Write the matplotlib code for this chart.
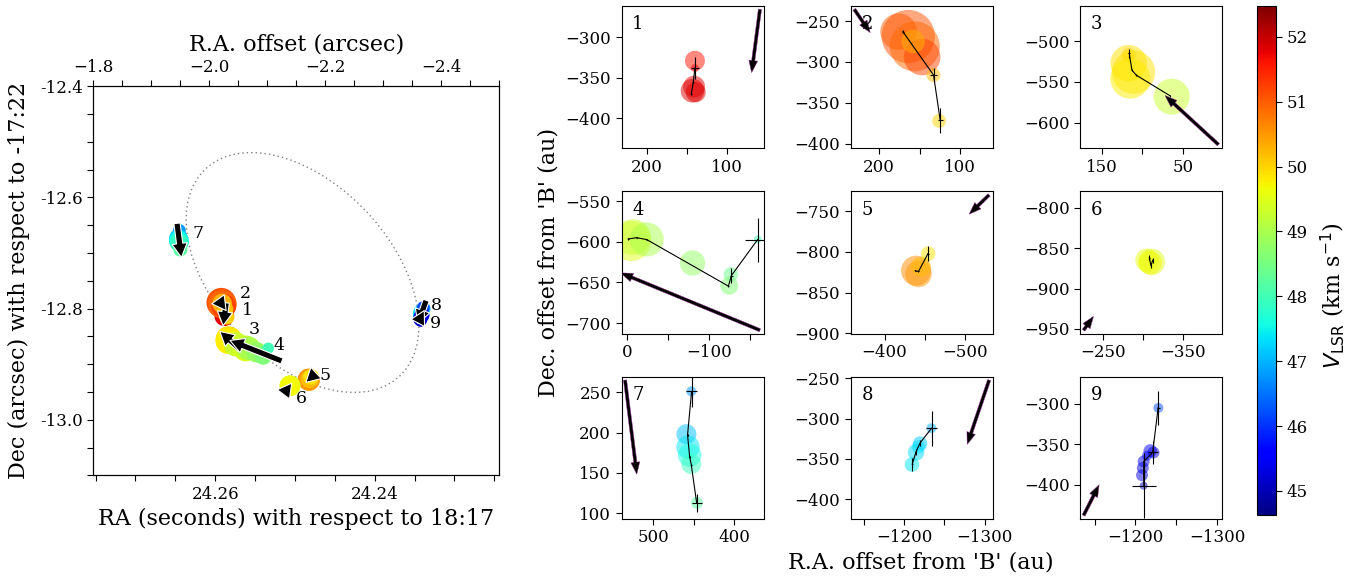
import numpy as np
import matplotlib
matplotlib.use("Agg")
import matplotlib.pyplot as plt
from matplotlib.ticker import MultipleLocator, FixedLocator
from matplotlib.patches import Ellipse
from matplotlib import colors, cm

plt.rcParams['font.family'] = ['DejaVu Serif']
plt.rcParams['mathtext.fontset'] = 'dejavusans'

# ---------------- data ----------------
# maser spots: feature id, offset from 'B' (au), V_LSR (km/s), relative flux
spot_feature = [1, 1, 1, 1, 1,
                2, 2, 2, 2, 2, 2, 2,
                3, 3, 3, 3, 3,
                4, 4, 4, 4, 4, 4, 4,
                5, 5, 5, 5,
                6, 6, 6,
                7, 7, 7, 7, 7, 7,
                8, 8, 8, 8, 8,
                9, 9, 9, 9, 9, 9, 9, 9]
spot_x = [140, 140, 141, 143, 139,
          176, 164, 156, 147, 158, 133, 126,
          117, 117, 111, 115, 64,
          -5, -7, -24, -80, -127, -125, -160,
          -439, -442, -445, -454,
          -305, -311, -309,
          453, 459, 457, 455, 453, 446,
          -1234, -1220, -1218, -1215, -1210,
          -1228, -1218, -1222, -1214, -1210, -1209, -1208, -1210]
spot_y = [-329, -338, -361, -366, -368,
          -263, -269, -281, -294, -275, -316, -372,
          -517, -527, -538, -546, -568,
          -599, -594, -597, -626, -640, -654, -597,
          -823, -827, -818, -802,
          -865, -867, -868,
          251, 198, 182, 172, 161, 113,
          -312, -331, -335, -342, -357,
          -305, -358, -360, -364, -371, -379, -388, -401]
spot_v = [51.6, 51.7, 51.8, 51.85, 51.8,
          51.0, 51.1, 50.9, 51.2, 50.3, 50.2, 50.0,
          50.2, 49.9, 49.9, 49.8, 49.3,
          49.5, 49.3, 49.0, 48.8, 48.4, 48.6, 48.0,
          50.6, 50.5, 50.2, 49.9,
          49.6, 49.5, 49.7,
          46.8, 47.1, 47.4, 47.6, 47.9, 48.2,
          47.0, 47.2, 47.3, 47.3, 47.4,
          46.2, 45.5, 45.3, 45.6, 45.4, 45.2, 45.3, 45.1]
spot_flux = [10, 1.6, 12, 14, 10,
             33.5, 71, 62.5, 33.5, 13.7, 4.9, 4.9,
             4.9, 33.5, 47, 40, 32.4,
             40, 32, 29, 16, 5.3, 8.1, 1.6,
             22.5, 17.7, 10, 5.3,
             13.7, 17.7, 13.7,
             2.5, 10, 13.7, 13.7, 10, 3.6,
             2.5, 5.3, 4.5, 6.9, 5.3,
             2.5, 4.5, 3.6, 2.5, 3.6, 3.6, 3.6, 1.6]

# position track of each feature with uncertainties (au)
track_feature = [1, 1, 1,
                 2, 2, 2,
                 3, 3, 3, 3,
                 4, 4, 4, 4, 4, 4,
                 5, 5, 5,
                 6, 6, 6,
                 7, 7, 7, 7, 7,
                 8, 8, 8, 8,
                 9, 9, 9, 9, 9]
track_x = [140, 142, 144.5,
           170.7, 132.9, 124.7,
           116.3, 113, 107.7, 66,
           -1.2, -11.6, -24, -124, -127.6, -159.8,
           -438, -442, -453.8,
           -308, -310, -312,
           452.6, 457.6, 455, 453, 446.4,
           -1210.3, -1214.8, -1219.8, -1234.2,
           -1210.2, -1210, -1210.2, -1221, -1227.8]
track_y = [-338, -355, -370,
           -263, -316, -371.3,
           -515.1, -535.6, -541.7, -567,
           -596.4, -594.8, -597.2, -654.5, -641.6, -597.2,
           -823, -824, -802,
           -862, -872, -865,
           250.9, 197, 170, 160, 113.1,
           -356.6, -341.7, -330.6, -312,
           -400.8, -385, -371, -360, -304.6]
track_xerr = [5, 0.5, 0.5,
              1, 4, 3,
              1, 0.5, 0.5, 0.5,
              0.5, 0.5, 0.5, 0.5, 2, 16,
              0.5, 0.5, 1,
              1, 0.5, 0.5,
              6.6, 0.5, 0.5, 0.5, 6,
              0.5, 0.5, 0.5, 6.6,
              15, 0.5, 0.5, 6, 2]
track_yerr = [14, 1.5, 1.5,
              2, 9, 15,
              6, 1, 1, 1,
              1, 1, 1, 1, 9, 27,
              1, 1, 9,
              3, 2, 3,
              19, 1, 1, 1, 11,
              8, 4, 4, 21.7,
              40, 6, 6, 14, 21]

# proper motion vectors per feature (au, as drawn in panels)
feature_ids = [1, 2, 3, 4, 5, 6, 7, 8, 9]
pm_dx = [10.3, -19.7, 65.9, 170.7, 24.8, -12.4, -14.5, 27.2, -19.1]
pm_dy = [-78.3, -28.6, 60.2, 70.7, -23.8, 17.3, -116.7, -79.7, 37.9]

# model orbit (dotted ellipse) in arcsec
orbit_center = (-2.161, -12.735)
orbit_width = 0.501
orbit_height = 0.310
orbit_angle = 49.7

# conversion of au offsets from 'B' into absolute offsets (arcsec)
AU_PER_ARCSEC = 4000.0
B_RA_OFF = -2.062
B_DEC = -12.722

vmin, vmax = 44.63, 52.48
cbar_ticks = [45, 46, 47, 48, 49, 50, 51, 52]

# subpanel axis limits and labelled x ticks
panel_xlim = [(231, 55), (235, 60), (177, 2), (7, -167), (-358, -534),
              (-222, -398), (539, 364), (-1134, -1310), (-1132, -1306)]
panel_ylim = [(-437, -261), (-405.4, -231.3), (-631.2, -456.6), (-713.2, -537.7),
              (-900.7, -725.3), (-956.2, -779.4), (92.9, 269.4), (-424.4, -248),
              (-442, -266.3)]
panel_xticks = [[200, 100], [200, 100], [150, 50], [0, -100], [-400, -500],
                [-250, -350], [500, 400], [-1200, -1300], [-1200, -1300]]
arrow_corner = ['tr', 'tl', 'br', 'br', 'tr', 'bl', 'tl', 'tr', 'bl']

# ---------------- figure ----------------
W, H = 1365, 581
fig = plt.figure(figsize=(W / 100, H / 100), dpi=100)


def px_axes(x0, y0, w, h):
    return fig.add_axes([x0 / W, 1 - (y0 + h) / H, w / W, h / H])


norm = colors.Normalize(vmin=vmin, vmax=vmax)
cmap = plt.get_cmap('jet')

sf = np.array(spot_feature)
sx = np.array(spot_x, float)
sy = np.array(spot_y, float)
sv = np.array(spot_v, float)
sfl = np.array(spot_flux, float)
tf = np.array(track_feature)
tx = np.array(track_x, float)
ty = np.array(track_y, float)
txe = np.array(track_xerr, float)
tye = np.array(track_yerr, float)

# ---- left overview panel ----
ax = px_axes(93, 86.3, 406.3, 389.1)
ax.set_xlim(24.27532, 24.22438)
ax.set_ylim(-13.1, -12.4)
ax.xaxis.set_major_locator(FixedLocator([24.26, 24.24]))
ax.set_xticklabels(['24.26', '24.24'])
ax.xaxis.set_minor_locator(MultipleLocator(0.005))
ax.yaxis.set_major_locator(FixedLocator([-12.4, -12.6, -12.8, -13.0]))
ax.set_yticklabels(['-12.4', '-12.6', '-12.8', '-13.0'])
ax.yaxis.set_minor_locator(MultipleLocator(0.05))
ax.tick_params(which='both', direction='out', length=4, width=0.8, labelsize=12,
               top=False, right=False)
ax.set_xlabel('RA (seconds) with respect to 18:17', fontsize=16)
ax.xaxis.set_label_coords(0.5, (475.4 - 518.7) / 389.1)
ax.xaxis.label.set_va('center')
ax.set_ylabel('Dec (arcsec) with respect to -17:22', fontsize=16)
ax.yaxis.set_label_coords((19 - 93) / 406.3, 0.5)
ax.yaxis.label.set_va('center')

ax2 = ax.twiny()
ax2.set_xlim(-1.8, -2.5)
ax2.xaxis.set_major_locator(FixedLocator([-1.8, -2.0, -2.2, -2.4]))
ax2.xaxis.set_minor_locator(MultipleLocator(0.05))
ax2.tick_params(which='both', direction='out', length=4, width=0.8, labelsize=12)
ax2.set_xlabel('R.A. offset (arcsec)', fontsize=16)
ax2.xaxis.set_label_coords(0.5, (475.4 - 44.5) / 389.1)
ax2.xaxis.label.set_va('center')

ell = Ellipse(orbit_center, orbit_width, orbit_height, angle=orbit_angle,
              fill=False, ec='gray', lw=1.0, ls=(0, (1, 2.2)), zorder=1)
ax2.add_patch(ell)

ra_sec = B_RA_OFF + sx / AU_PER_ARCSEC
dec_sec = B_DEC + sy / AU_PER_ARCSEC
ax2.scatter(ra_sec, dec_sec, s=17.0 * np.sqrt(10 * sfl), c=sv, cmap=cmap, norm=norm,
            edgecolors='none', zorder=3)

cx = np.array([ra_sec[sf == f].mean() for f in feature_ids])
cy = np.array([dec_sec[sf == f].mean() for f in feature_ids])
ARROW_SCALE = 2.1
ux = ARROW_SCALE * np.array(pm_dx) / AU_PER_ARCSEC
uy = ARROW_SCALE * np.array(pm_dy) / AU_PER_ARCSEC
for i in range(len(feature_ids)):
    ax2.annotate('', xy=(cx[i] + ux[i] / 2, cy[i] + uy[i] / 2),
                 xytext=(cx[i] - ux[i] / 2, cy[i] - uy[i] / 2),
                 arrowprops=dict(arrowstyle='simple,head_length=1.0,head_width=1.1,tail_width=0.45',
                                 mutation_scale=10, fc='k', ec='w', lw=0.8,
                                 shrinkA=0, shrinkB=0),
                 zorder=5)

label_off = {1: (16.1, 2.6), 2: (16.3, 9.0), 3: (17.4, 7.4), 4: (16.4, 3.9), 5: (11, 2.8),
             6: (8.1, -9.2), 7: (13.8, 5.0), 8: (10.1, 4.6), 9: (9.8, -5.5)}
for i, f in enumerate(feature_ids):
    ax2.annotate(str(f), (cx[i], cy[i]), xytext=label_off[f], textcoords='offset points',
                 ha='center', va='center', fontsize=12.5, zorder=6)

# ---- 3x3 zoom panels ----
cols_x = [621.5, 850.7, 1080]
rows_y = [5.7, 191.3, 376.5]
for k, f in enumerate(feature_ids):
    r, c = divmod(k, 3)
    a = px_axes(cols_x[c], rows_y[r], 142, 142.5)
    a.set_xlim(*panel_xlim[k])
    a.set_ylim(*panel_ylim[k])
    m = sf == f
    a.scatter(sx[m], sy[m], s=20.7 * sfl[m], c=sv[m], cmap=cmap, norm=norm,
              alpha=0.5, edgecolors='none', zorder=2)
    mt = tf == f
    a.errorbar(tx[mt], ty[mt], xerr=txe[mt], yerr=tye[mt], color='k', lw=0.8,
               elinewidth=0.8, capsize=0, zorder=3)
    x0, x1 = panel_xlim[k]
    y0, y1 = panel_ylim[k]
    fx = 0.975 if arrow_corner[k][1] == 'r' else 0.025
    fy = 0.975 if arrow_corner[k][0] == 't' else 0.025
    xt = x0 + fx * (x1 - x0)
    yt = y0 + fy * (y1 - y0)
    a.arrow(xt, yt, pm_dx[k], pm_dy[k], width=4, head_width=11, head_length=15,
            length_includes_head=True, fc='k', ec='#9a2a9a', lw=0.3, zorder=4)
    a.text(0.075, 0.935, str(f), transform=a.transAxes, fontsize=13, va='top', ha='left')
    a.xaxis.set_major_locator(FixedLocator(panel_xticks[k]))
    a.xaxis.set_minor_locator(MultipleLocator(50))
    a.yaxis.set_major_locator(MultipleLocator(50))
    a.tick_params(which='both', direction='out', length=4, width=0.8, labelsize=12)

fig.text(548 / W, 1 - 262 / H, "Dec. offset from 'B' (au)", rotation=90,
         ha='center', va='center', fontsize=16)
fig.text(921 / W, 1 - 563 / H, "R.A. offset from 'B' (au)",
         ha='center', va='center', fontsize=16)

# ---- colorbar ----
cax = px_axes(1257, 5.6, 19, 509.4)
sm = cm.ScalarMappable(norm=norm, cmap=cmap)
cb = fig.colorbar(sm, cax=cax, ticks=cbar_ticks)
cb.ax.tick_params(labelsize=12, length=4, width=0.8)
cb.set_label(r'$V_{\rm LSR}$ (km s$^{-1}$)', fontsize=16)
cb.ax.yaxis.set_label_coords(4.0, 0.431)
cb.ax.yaxis.label.set_va('center')

fig.savefig('out.png', dpi=100)
